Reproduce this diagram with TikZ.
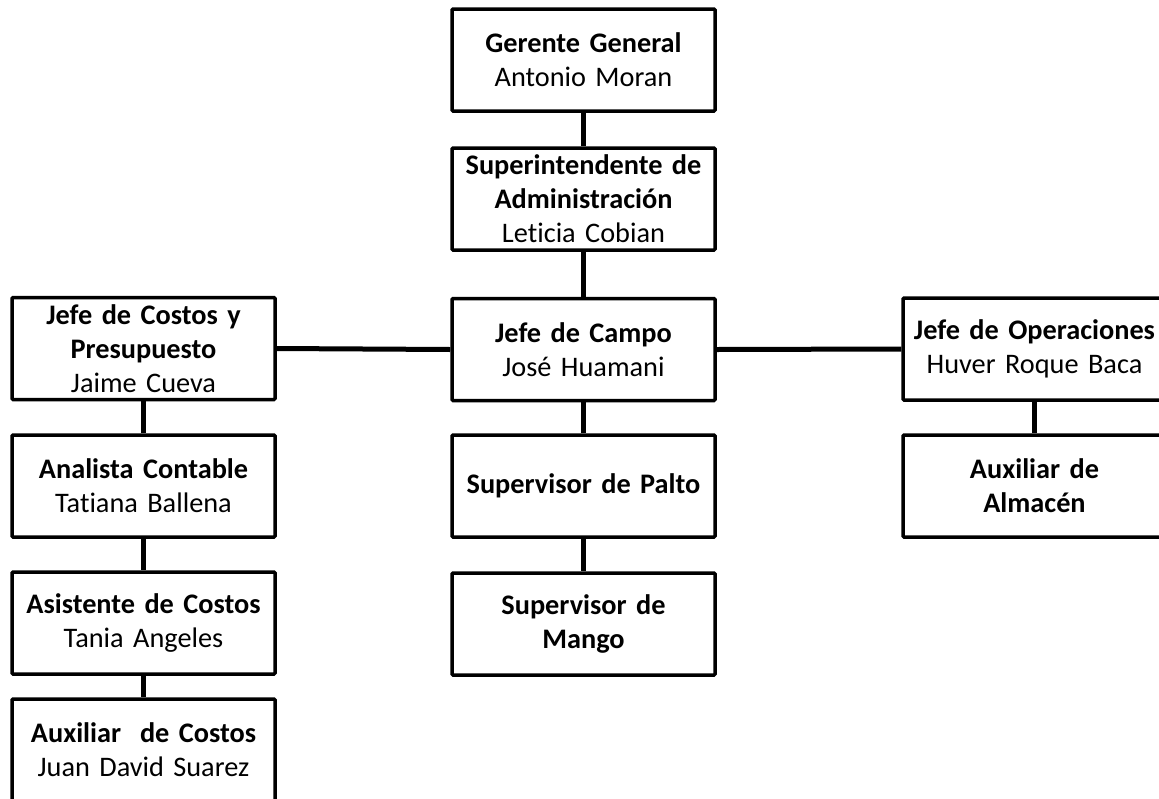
\documentclass[tikz,border=0pt]{standalone}
\usepackage{fontspec}
\setmainfont{Carlito}[Ligatures=NoCommon]
\begin{document}
\begin{tikzpicture}[x=1pt,y=-1pt,
  orgbox/.style={draw=black,line width=3.5pt,fill=white,minimum width=263pt,minimum height=102pt,
    inner sep=0pt,text width=258pt,align=center,rounded corners=1pt,
    font=\fontsize{28.3}{34}\selectfont},
  link/.style={line width=5pt,black}]
\useasboundingbox (0,0) rectangle (1159,798);
\begin{scope}
\clip (0,0) rectangle (1159,798);
\node[orgbox] (gg)  at (583.5,60)  {\textbf{Gerente General}\\Antonio Moran};
\node[orgbox] (sa)  at (583.5,199) {\textbf{Superintendente de}\\\textbf{Administración}\\Leticia Cobian};
\node[orgbox] (jc)  at (583.5,349.5) {\textbf{Jefe de Campo}\\José Huamani};
\node[orgbox] (sp)  at (583.5,486) {\textbf{Supervisor de Palto}};
\node[orgbox] (sm)  at (583.5,624) {\textbf{Supervisor de}\\\textbf{Mango}};
\node[orgbox] (jcp) at (143.5,348.5) {\textbf{Jefe de Costos y}\\\textbf{Presupuesto}\\Jaime Cueva};
\node[orgbox] (ac)  at (143.5,486) {\textbf{Analista Contable}\\Tatiana Ballena};
\node[orgbox] (asc) at (143.5,623) {\textbf{Asistente de Costos}\\Tania Angeles};
\node[orgbox] (axc) at (143.5,750) {\textbf{Auxiliar \ de Costos}\\Juan David Suarez};
\node[orgbox] (jo)  at (1034.5,349) {\textbf{Jefe de Operaciones}\\Huver Roque Baca};
\node[orgbox] (aa)  at (1034.5,486) {\textbf{Auxiliar de}\\\textbf{Almacén}};
\draw[link] (gg.south) -- (sa.north);
\draw[link] (sa.south) -- (jc.north);
\draw[link] (jc.south) -- (sp.north);
\draw[link] (sp.south) -- (sm.north);
\draw[link] (jcp.east) -- (jc.west);
\draw[link] (jc.east) -- (jo.west);
\draw[link] (jcp.south) -- (ac.north);
\draw[link] (ac.south) -- (asc.north);
\draw[link] (asc.south) -- (axc.north);
\draw[link] (jo.south) -- (aa.north);
\end{scope}
\end{tikzpicture}
\end{document}
